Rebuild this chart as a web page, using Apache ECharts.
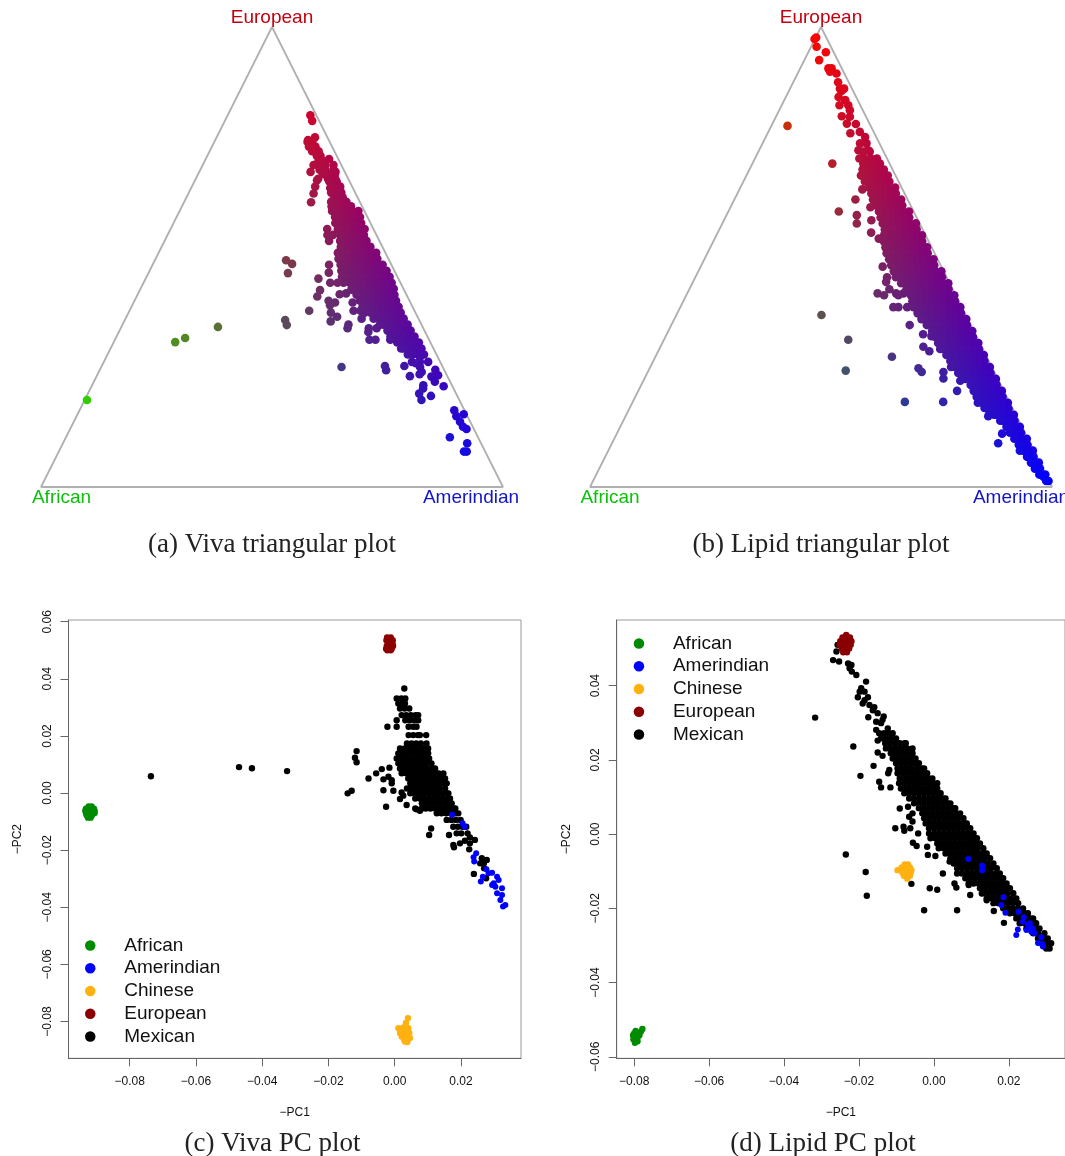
<!DOCTYPE html>
<html>
<head>
<meta charset="utf-8">
<style>html,body{margin:0;padding:0;background:#fff;overflow:hidden}#c{width:1065px;height:1156px}</style>
<script src="https://cdn.jsdelivr.net/npm/echarts@6/dist/echarts.min.js"></script>
</head>
<body>
<div id="c"></div>
<script>
// Ternary panels: rows of [European %, [African % of each sample at that level]]
const vivaTriRows = [
[80.8,[1.3]],[79.6,[1.5]],[76,[2.7]],[75.4,[4.5]],[75,[3.8,4.8]],[74,[3.6,4.3,5]],[73,[3.4,4.1,4.8]],[72,[3.5,4.3]],[71.3,[2]],[71,[3.7,4.4]],
[70,[1.7,3.5,4.9,6]],[69,[2.2,4,5.2]],[68.5,[2,4.9,7.4]],[68,[2.4,3.8,4.7]],[67,[2.8,4.4,6.5]],[66.7,[6.9]],[66.4,[2.8,4.4]],[65.3,[2.6,4.2,8]],[65,[2.8,3.6,4.9]],
[64,[3,3.8,5.2]],[63.8,[9.1]],[63,[3.2,4,5]],[62,[2.9,4,5.2,6.2]],[61.9,[10.6]],[61,[2.4,3.4,4.6,5.6,6.6]],
[60,[1.3,2.6,3.9,5.2,6.5,7]],[58.7,[1.6,3,4.3,5.6,7]],[57.4,[2,3.2,4.5,5.8,7.1,7.6]],[56.1,[1.9,3.2,4.5,5.8,7,7.7,10]],
[54.8,[2.7,3.9,5.2,6.5,7.8,9.4,10.6]],[53.5,[2.8,4.1,5.4,6.7,8,8.5,10.9]],[52.2,[2.6,3.9,5.2,6.5,7.8,9]],[50.9,[2,3.3,4.6,5.9,7.2,8.5,9.8,10.3]],
[49.6,[2.4,3.7,5,6.3,7.6,8.9,10.2,10.8]],[49.3,[22.3]],[48.5,[21.4]],[48.3,[1.9,3.2,4.5,5.8,7.1,8.4,9.7,11,13.5]],[47,[1.7,3,4.3,5.6,6.9,8.2,9.5,10.8,11.5]],[46.6,[14.4]],[46.5,[23.3]],
[45.7,[1.7,3,4.3,5.6,6.9,8.2,9.5,10.8,12]],[45.3,[17.3]],[44.4,[1.9,3.2,4.5,5.8,7.1,8.4,9.7,11,12.3,13.6,15.2]],[43.1,[2.1,3.4,4.7,6,7.3,8.6,9.9,11.2]],
[42.9,[11.3]],[42.8,[18.2]],[42.1,[12.9]],[41.9,[14.4]],[41.4,[19.5]],[41.8,[2.6,3.9,5.2,6.5,7.8,9.1,10.4,10.8]],[40.5,[2.9,4.2,5.5,6.8,8.1,9.4,10.7,17.5]],
[40.1,[12.5,16.3]],[39.5,[17.7]],[39.2,[3,4.3,5.6,6.9,8.2,9.5,10.8]],[38.3,[11.7,13.2,22.8]],[37.9,[3.2,4.5,5.8,7.1,8.4,9.7,11,18.3]],[37,[17.4]],
[36.6,[3.2,4.5,5.8,7.1,8.4,9.7,12.3]],[36.3,[29]],[36,[19.3]],[35.3,[3,4.3,5.6,6.9,8.2,9,15.8]],[35.2,[29.2]],[34.5,[10.1,11.8,16.4]],[34,[3,4.3,5.6,6.9,8]],[33.7,[12.3]],
[32.7,[2.8,4.1,5.4,6.7,8]],[32,[8.4,11.6,12.9]],[31.4,[2.5,3.8,5.1,6.4,7.2]],[30.1,[2.6,3.9,5.2,6.5,7]],[28.8,[2.7,4,5.2,6.2]],[28.3,[3.8]],[27.2,[2.6,4.4,6.1]],
[26.9,[5.4]],[26.3,[8.2,12.4]],[26.1,[4.9,21.9]],[25.5,[1.9]],[25.4,[12.6]],[25,[5.1]],[24.5,[5.8]],[24.3,[1.9]],[24.1,[8.1]],[24,[3.5]],[22.9,[3.3]],[22.1,[6.2]],
[21.9,[1.9]],[21.4,[6.6]],[20.3,[8]],[19.8,[5.7]],[18.9,[8.2]],[16.7,[2.2]],[15.8,[0.6]],[15.4,[2.4]],[14.2,[2.2]],[13.1,[2.1]],[12.6,[1.6]],[10.8,[6.1]],[9.5,[3]],[7.7,[4,4.6]],
[34.8,[44.3]],[32.4,[52.6]],[31.5,[55.2]],[18.9,[80.6]]
];
const lipidTriRows = [
[97.7,[2.2]],[97.4,[2.7]],[95.7,[3.1]],[94.5,[1.7]],[92.8,[4]],[91,[2.2,2.9]],[90.3,[2.9]],[89.9,[1.7]],[88,[2.3]],[86.6,[1.7,2.6]],[86.1,[2.5]],[84.8,[3.8]],[84.1,[2.7]],
[83,[2.6,4.5]],[81.9,[2.8]],[80.6,[5.2]],[80.5,[3.5]],[79,[4.9]],[78.9,[3]],[78.5,[18]],[77.2,[3]],[76.9,[5.2]],[76.1,[2.4]],[74.7,[2.8,4.2]],[73.2,[3.2,5.3]],[72.9,[3,4.4]],[71.4,[2.2,3.5,4.9,6]],
[70.3,[2.1,3.4,4.7,5.7,12.4]],[69,[1.9,3.2,4.5,5.8,6.5]],[67.7,[1.7,3,4.3,5.6,6.9,7.5]],[66.4,[2,3.3,4.6,5.9,7.3]],[65.1,[1.4,2.7,4,5.3,6.6,7.1]],[64.7,[8.7]],
[63.8,[1.9,3.2,4.5,5.8,7.2]],[62.5,[1.4,2.7,4,5.3,6.6,7.5,11.3]],[61.2,[1.8,3.1,4.4,5.7,7,7.5]],[60.8,[8.9]],[59.9,[1,2.3,3.6,4.9,6.2,7.5,16.2]],[59.1,[12.7]],[58.6,[1.6,2.9,4.2,5.5,6.8,7.8]],[58,[10.1]],
[57.3,[0.8,2.1,3.4,4.7,6,7.3,8,13.6]],[56,[1.3,2.6,3.9,5.2,6.5,7.8,8.2]],[55.3,[11.5]],[54.7,[0.8,2.1,3.4,4.7,6,7.3,8.6,9]],[54,[10.5]],[53.4,[1.4,2.7,4,5.3,6.6,7.9,9.2,9.7]],
[52.1,[1,2.3,3.6,4.9,6.2,7.5,8.8,10]],[50.8,[1.5,2.8,4.1,5.4,6.7,8,9.3,10.4]],[49.5,[0.9,2.2,3.5,4.8,6.1,7.4,8.7,10,10.5]],[48.2,[1.4,2.7,4,5.3,6.6,7.9,9.2,10.5,10.7]],
[47.9,[12.7]],[46.9,[0.5,1.8,3.1,4.4,5.7,7,8.3,9.6,10.8]],[45.6,[1,2.3,3.6,4.9,6.2,7.5,8.8,10.1,11,12.9]],[44.6,[13.6]],[44.3,[0.3,1.6,2.9,4.2,5.5,6.8,8.1,9.4,10.5]],[43,[0.9,2.2,3.5,4.8,6.1,7.4,8.7,10,13.7]],
[42.1,[11.1,12.7,16.7]],[41.7,[0.3,1.6,2.9,4.2,5.5,6.8,8.1,9.4,9.7,12.4,15.5]],[40.4,[0.8,2.1,3.4,4.7,6,7.3,8.6,9.9,10]],[39.1,[0.3,1.6,2.9,4.2,5.5,6.8,8.1,9.4,10.4,14.8,13.7,11.8]],
[37.8,[0.8,2.1,3.4,4.7,6,7.3,8.6,9.9,10.2]],[36.5,[0.3,1.6,2.9,4.2,5.5,6.8,8.1,9.4,10]],[35.2,[0.8,2.1,3.4,4.7,6,7.3,8.6,9.5,13.2]],[33.9,[0.3,1.6,2.9,4.2,5.5,6.8,8.1,9]],
[33.2,[11.3]],[32.8,[9.7]],[32.6,[0.8,2.1,3.4,4.7,6,7.3,8.6,9]],[32,[28.1]],[31.3,[0.3,1.6,2.9,4.2,5.5,6.8,8.1,9]],[30.5,[12.6]],[30,[0.8,2.1,3.4,4.7,6,7.3,8.6,9.2]],[29.5,[11.8]],
[28.7,[0.4,1.7,3,4.3,5.6,6.9,8.2,8.5]],[28.3,[20.5]],[27.4,[0.9,2.2,3.5,4.8,6.1,7.4,8.3]],[26.1,[0.4,1.7,3,4.3,5.6,6.9,8,8.8]],[25.8,[16]],[25.3,[32]],[25,[11,15.7]],[24.8,[0.9,2.2,3.5,4.8,6.1,7.4,7.9]],
[23.6,[11.7]],[23.5,[0.4,1.7,3,4.3,5.6,7]],[23.1,[8.3]],[22.2,[0.9,2.2,3.5,4.8,6.1,6.5]],[20.9,[0.4,1.7,3,4.3,5.6,6.5,10.1]],[19.6,[0.9,2.2,3.5,4.8,6.1,6.5]],[18.5,[14.3,22.6]],
[18.3,[0.4,1.7,3,4.3,5.6,6,6.9]],[17.2,[6]],[17,[0.9,2.2,3.5,4.8,5.5]],[15.7,[0.4,1.7,3,4.2,4.7]],[15.4,[6.1]],[14.4,[0.9,2.2,3.5,4]],[13.1,[0.4,1.7,3,3.3]],[11.8,[0.8,2.1,3.2]],[11.6,[5]],
[10.5,[0.2,1.5,2.9]],[9.5,[6.9]],[9.2,[0.7,2,2.6]],[7.9,[0.2,1.5,2.3,3]],[6.6,[0.7,2,2.1]],[5.3,[0.2,1.5,1.9]],[4,[0.6,1.7]],[2.7,[0.1,1.4]],[2.2,[0.7]],[1.3,[0.1,0.6]],
[37.4,[31.2]]
];
const triangleCorners = [[100,0],[0,100],[0,0],[100,0]]; // [European %, African %]

// PC panels, values in thousandths: rows of [PC2, [PC1 ...]]
const vivaMexican = [
[36.6,[2.9]],[33.1,[0.6,2,3.2]],[31.4,[1.1,2.6,3.1]],[29.6,[1.6,3,4.4]],[27.3,[2.1,3.5,4.9,6.3,7.1]],[25.5,[0.6,3.2,4.6,6,7.1]],[23.2,[-2.2,0.6,4.2,5.6,6.6]],[20.3,[4.2,5.6,7,7.6,9.5]],
[17.4,[3.7,5.1,6.5,7.9,9.6]],[15.6,[1.6,3,4.4,5.8,7.2,8.6,10.1]],[13.9,[1.1,2.5,3.9,5.3,6.7,8.1,9.5,10.1]],[12.1,[0.6,2,3.4,4.8,6.2,7.6,9,10.4]],[10.4,[1.1,2.5,3.9,5.3,6.7,8.1,9.5,11.1]],
[8.6,[1.6,3,4.4,5.8,7.2,8.6,10,11.4,12.2]],[6.9,[2.1,3.5,4.9,6.3,7.7,9.1,10.5,11.9,13.3,14.7]],[5.1,[4.1,5.5,6.9,8.3,9.7,11.1,12.5,13.9,15.2]],[3.4,[4.7,6.1,7.5,8.9,10.3,11.7,13.1,14.5,15.7]],
[1.6,[3.7,5.1,6.5,7.9,9.3,10.7,12.1,13.5,15.2]],[-0.1,[4.7,6.1,7.5,8.9,10.3,11.7,13.1,14.5,15.9,16.2]],[-1.9,[6.2,7.6,9,10.4,11.8,13.2,14.6,16,16.7]],[-3.6,[8.2,9.6,11,12.4,13.8,15.2,16.6,17.2]],
[-5.4,[6.2,8.2,9.4,10.8,12.2,13.6,15,16.4,17.8,18.3]],[-7.1,[12.7,14.1,15.5,16.9,18.3,19.2]],[-9.4,[15.7,17.1,18.5,19.9]],[-11.8,[17.7,19.1,20.5,21.6]],[-14.1,[18.7,20.1,22]],
[14.7,[-11.5]],[12.4,[-12]],[10.8,[-11.5]],[5.1,[-7.9]],[6.9,[-5.6]],[8.4,[-3.9]],[8.9,[-1.6]],[4.8,[-3.4]],[5.7,[-1.9]],[4.5,[-0.9]],[3.4,[-0.9]],[-0.1,[-14.2]],[0.8,[-13,-0.4]],[1,[-3.4]],
[0.2,[2.1]],[-0.9,[2.6]],[-2.1,[1.6]],[-4.8,[-2.6]],[-4.2,[3.6]],[-5.7,[6.6]],[-6.2,[7.6]],[-12.4,[11]],[-14.7,[10.4,16.4]],[-18.2,[17.7]],[-19,[17.9]],[-17.6,[19.7,22.7]],[-16.7,[21.2]],[-15.5,[22.7]],
[-16.4,[24.2]],[-19.7,[22.5]],[-22.8,[26.3]],[-23.4,[27.8]],[-24.6,[25.8,26.9]],[-26.3,[27]],[-28.3,[23.9]],[-29.8,[27.6]],
[5.9,[-73.6]],[9.1,[-47]],[8.7,[-43.1]],[7.7,[-32.5]]
];
const vivaAmerindian = [[-7.6,[17.3]],[-10.6,[20.5]],[-11.8,[21.1]],[-22.5,[23.8]],[-21.1,[24.6]],[-24,[24]],[-26.7,[27.7]],[-28.1,[28.3]],[-27.9,[29.4]],[-29.3,[26.6,30.9]],[-31,[26]],[-30.4,[31.4]],[-31.6,[29.9]],[-32.2,[29.4]],[-32.8,[30.4]],[-33.3,[32.4]],[-35.1,[30.9]],[-35.7,[32.4]],[-37.4,[31.9]],[-39.2,[33.4]],[-39.7,[32.7]]];
const vivaChinese = [[-78.8,[4]],[-80.5,[3.4]],[-82.1,[2.6]],[-82.3,[1.1,4.1]],[-83,[1.8,3.3]],[-84,[1.6,2.8,3.6,4.4]],[-85.2,[2.1,3.2]],[-85.8,[4.6]],[-86.2,[3.8,2.8]],[-87,[3.1]],[-87.2,[3.8]]];
const vivaEuropean = [[54.5,[-2.3,-1.2]],[53.5,[-2.5,-0.6]],[52.5,[-2,-1,-0.7]],[51.5,[-2.4,-1.4,-0.5]],[50.5,[-2.6,-1.6,-0.9]],[50,[-2.2,-1.2]]];
const vivaAfrican = [[-4.7,[-92.4,-91.5]],[-5.5,[-93.2,-90.8]],[-6.2,[-93.4,-92,-90.6]],[-7,[-93.2,-91.8,-90.6]],[-7.8,[-93,-91.4]],[-8.6,[-92.6,-91.8]]];

const lipidMexican = [
[27.2,[-14.6,-13.3,-12,-11]],[25.8,[-14.1,-12.8,-11.5,-10.1]],[24.5,[-13,-11.7,-10.4,-9.1,-7.8,-7.5]],[23.1,[-12.8,-11.5,-10.2,-8.9,-7.6,-7.1]],[21.8,[-11.5,-10.2,-8.9,-7.6,-6.3,-5.7]],
[20.4,[-11,-9.7,-8.4,-7.1,-5.8,-4.9]],[19.1,[-10.1,-8.8,-7.5,-6.2,-4.9,-4]],[17.7,[-9.7,-8.4,-7.1,-5.8,-4.5,-3.2,-2.6]],[16.4,[-9.7,-8.3,-7,-5.7,-4.4,-3.1,-1.8]],[15,[-9.1,-7.8,-6.5,-5.2,-3.9,-2.6,-1.3,-0.4]],
[13.7,[-9.3,-8,-6.7,-5.4,-4.1,-2.8,-1.5,-0.2,0.9]],[12.3,[-8.8,-7.5,-6.2,-4.9,-3.6,-2.3,-1,0.3,0.9]],[11,[-7.9,-6.6,-5.3,-4,-2.7,-1.4,-0.1,1.2,1.8]],[9.6,[-6.6,-5.3,-4,-2.7,-1.4,-0.1,1.2,2.5,3.1]],
[8.3,[-5.3,-4,-2.7,-1.4,-0.1,1.2,2.5,3.8,4.4]],[7,[-4,-2.7,-1.4,-0.1,1.2,2.5,3.8,5.1,5.7]],[5.6,[-3.1,-1.8,-0.5,0.8,2.1,3.4,4.7,6,7]],[4.3,[-2.6,-1.3,0,1.3,2.6,3.9,5.2,6.5,7.9]],
[2.9,[-2.2,-0.9,0.4,1.7,3,4.3,5.6,6.9,8.2,8.8]],[1.6,[-1.3,0,1.3,2.6,3.9,5.2,6.5,7.8,9.1,9.7]],[0.2,[-1.3,0.1,1.4,2.7,4,5.3,6.6,7.9,9.2,10.6]],[-1.1,[-0.9,0.4,1.7,3,4.3,5.6,6.9,8.2,9.5,10.8,11.5]],
[-2.5,[0.9,2.2,3.5,4.8,6.1,7.4,8.7,10,11.3,12.3]],[-3.8,[1.3,2.6,3.9,5.2,6.5,7.8,9.1,10.4,11.7,13.2]],[-5.2,[3.1,4.4,5.7,7,8.3,9.6,10.9,12.2,13.5,14.1]],[-6.5,[4.4,5.7,7,8.3,9.6,10.9,12.2,13.5,15]],
[-7.9,[5.3,6.6,7.9,9.2,10.5,11.8,13.1,14.4,15.9]],[-9.2,[6.2,7.5,8.8,10.1,11.4,12.7,14,15.3,16.8]],[-10.6,[6.2,7.5,8.8,10.1,11.4,12.7,14,15.3,16.6,17.6]],[-11.9,[8.4,9.7,11,12.3,13.6,14.9,16.2,17.5,18.5]],
[-13.3,[9.3,10.6,11.9,13.2,14.5,15.8,17.1,18.4,19.4]],[-14.6,[12.3,13.6,14.9,16.2,17.5,18.8,20.3]],[-15.9,[13.2,14.5,15.8,17.1,18.4,19.7,21.2]],[-17.3,[14.1,15.4,16.7,18,19.3,20.6,22]],
[-18.6,[15.9,17.2,18.5,19.8,21.1,22.5]],[-20,[18.5,19.8,21.1,22.4,23.8]],[-21.3,[20.3,21.6,22.9,24.2,25.1]],[-22.7,[22,23.3,24.6,25.9,26.5]],[-24,[22.9,24.2,25.5,26.8,27.3]],
[-25.4,[24.7,26,27.3,28.2]],[-26.7,[26.5,27.8,29.5]],[-28.1,[27.8,29.1,30.4]],[-29.4,[28.7,30,31.3]],[-30.8,[30,30.9]],
[51,[-25.7]],[49.2,[-26]],[46.9,[-26.9]],[46.5,[-25.3]],[46,[-22.9]],[45.6,[-22]],[44.7,[-22.5]],[43.8,[-21.9]],[42.9,[-20.7]],[41.1,[-18.1]],[39.3,[-19.4]],[38.4,[-19.8,-18.5]],[36.9,[-20.3,-17.6]],[36.1,[-18.5]],
[35.2,[-19]],[34.8,[-17.2]],[34.2,[-15.9]],[33.4,[-16.3]],[32.6,[-15]],[31.5,[-17.5]],[31.7,[-13.4]],[30.8,[-13.7]],[30.3,[-15.4]],[29.9,[-14.1]],[28.1,[-15.4]],[28.5,[-12.3]],
[31.4,[-31.7]],[23.6,[-21.5]],[25.2,[-15]],[22,[-15]],[21.1,[-13.7]],[23.1,[-5.7]],[18.4,[-16.1]],[15.7,[-19.6]],[17.3,[-11.9]],[16.4,[-12.2]],[14.1,[-14.6]],[12.6,[-14.1,-11.6]],[6.9,[-9.1]],[7.4,[-6.9]],
[5.6,[-5.7]],[4.7,[-6.6]],[3.4,[-5.7]],[1.6,[-10.3,-6.3]],[2,[-8.1]],[0.9,[-7.9]],[0.2,[-4.2]],[-2.3,[-5.6]],[-3.2,[-4.6]],[-3.4,[-1.8]],[-5.6,[-1.6]],[-5.9,[0.4]],[-7.4,[4.2]],[-10.6,[2.4]],
[-5.5,[-23.5]],[-10.2,[-18.2]],[-16.6,[-17.9]],[-13.4,[-6]],[-14.6,[-1.1]],[-15,[0.9]],[-13.3,[5.5]],[-14.4,[6]],[-20.5,[-2.6,6.2]],[-16.4,[9.7]],[-13.7,[9.3]],[-20.7,[16]],[-23.9,[18.7]],[-16,[12.8]],[-17.8,[14.1]]
];
const lipidAmerindian = [[-6.7,[9.2]],[-8.5,[12.9]],[-9.7,[12.9]],[-17,[18.6]],[-19.1,[18]],[-21.2,[19.1]],[-20.9,[22.6]],[-22.4,[24]],[-23.6,[23.8]],[-24,[25.6]],[-24.5,[25.1]],[-25,[25.6]],[-25.4,[26.5]],[-25.8,[24.7]],[-26.3,[26]],[-26.7,[26.9]],[-25.7,[22.4]],[-27.2,[22]],[-27.8,[28.7]],[-29.3,[27.8]],[-29.6,[28.9]],[-30.3,[29.1]]];
const lipidChinese = [[-8.2,[-7.8,-6.9]],[-9,[-8.6,-7.4,-6.4]],[-9.7,[-9.7,-8.4,-7.2,-6]],[-10.4,[-8.4,-7.4,-6.2]],[-11.2,[-8,-7,-6.4]],[-12,[-7.1]]];
const lipidEuropean = [[53.7,[-23.4]],[53,[-24.4,-23,-22.4]],[52,[-25,-23.8,-22.6,-22]],[51,[-25.2,-24,-22.8,-22.2]],[50,[-24.6,-23.4,-22.6]],[49,[-24.2,-23.2]]];
const lipidAfrican = [[-52.5,[-77.8]],[-53,[-79.6]],[-53.2,[-78.2]],[-53.7,[-78.9,-80]],[-54.2,[-80.3,-78.6]],[-54.6,[-79.8]],[-54.8,[-79.1]],[-55.3,[-80.2,-79.4]],[-55.8,[-79.1]],[-56.2,[-79.8]]];

const vivaXTicks = [-0.08,-0.06,-0.04,-0.02,0,0.02];
const vivaYTicks = [-0.08,-0.06,-0.04,-0.02,0,0.02,0.04,0.06];
const lipidXTicks = [-0.08,-0.06,-0.04,-0.02,0,0.02];
const lipidYTicks = [-0.06,-0.04,-0.02,0,0.02,0.04];
const groupNames = ['African','Amerindian','Chinese','European','Mexican'];
const groupColors = {African:'#008B00',Amerindian:'#0000FF',Chinese:'#FFB10F',European:'#8B0000',Mexican:'#000000'};

const SANS = '"Liberation Sans", Arial, sans-serif';
const SERIF = '"Liberation Serif", "DejaVu Serif", serif';

function ternaryXY(eur, afr){ return [100 - afr - eur/2, eur]; }
function ternaryPoints(rows){
  const out = [];
  rows.forEach(([eur, afrs]) => afrs.forEach(afr => {
    const amer = Math.max(0, 100 - eur - afr);
    const c = v => Math.round(v * 2.55);
    out.push({value: ternaryXY(eur, afr), itemStyle: {color: `rgb(${c(eur)},${c(afr)},${c(amer)})`, opacity:1}});
  }));
  return out;
}
function pcPoints(rows){
  const out = [];
  rows.forEach(([pc2, pc1s]) => pc1s.forEach(pc1 => out.push([pc1/1000, pc2/1000])));
  return out;
}
const fmt = v => Math.abs(v) < 1e-9 ? '0.00' : v.toFixed(2).replace('-', '\u2212');

const grids = [
  {left:41, top:27, width:462, height:460, show:false},
  {left:590, top:27, width:462, height:460, show:false},
  {left:68.5, top:620, width:452.5, height:438.3, show:true, borderColor:'#9a9a9a', borderWidth:1, backgroundColor:'transparent'},
  {left:616.7, top:620, width:452.5, height:438.3, show:true, borderColor:'#9a9a9a', borderWidth:1, backgroundColor:'transparent'}
];
const hiddenAxis = i => ({type:'value', gridIndex:i, min:0, max:100, show:false});
function pcAxis(i, min, max, ticks, name, vertical){
  return {
    type:'value', gridIndex:i, min, max, scale:true,
    name, nameLocation:'middle', nameGap: vertical ? 44.5 : 48, nameRotate: vertical ? 90 : 0,
    nameTextStyle:{fontFamily:SANS, fontSize:12, color:'#111'},
    axisLine:{show:true, onZero:false, lineStyle:{color:'#666', width:1}},
    axisTick:{show:true, length:8, customValues:ticks, lineStyle:{color:'#666', width:1}},
    axisLabel:{show:true, customValues:ticks, formatter:fmt, rotate: vertical ? 90 : 0, margin: vertical ? 15 : 17, fontFamily:SANS, fontSize:12, color:'#111', hideOverlap:false},
    splitLine:{show:false}
  };
}
const triangleSeries = i => ({type:'line', xAxisIndex:i, yAxisIndex:i, data:triangleCorners.map(p => ternaryXY(p[0], p[1])), symbol:'none', clip:false, lineStyle:{color:'#b0b0b0', width:1.8}, silent:true, z:1});
const triPts = (i, rows) => ({type:'scatter', xAxisIndex:i, yAxisIndex:i, data:ternaryPoints(rows), symbol:'circle', symbolSize:8.6, clip:false, silent:true, z:2});
const pcSeries = (i, name, rows, size) => ({type:'scatter', name, xAxisIndex:i, yAxisIndex:i, data:pcPoints(rows), symbol:'circle', symbolSize:size, itemStyle:{color:groupColors[name], opacity:1}, silent:true, z:3});

const textBlock = (text, x, y, color, size, family) => ({text, left:x, top:y, textAlign:'center', textVerticalAlign:'middle', padding:0, textStyle:{color, fontSize:size, fontWeight:'normal', fontFamily:family}});
const legendBlock = (left, top) => ({
  show:true, orient:'vertical', left, top, data:groupNames, icon:'circle', itemWidth:58, itemHeight:10.5, itemGap:3.75, selectedMode:false, padding:0,
  textStyle:{fontFamily:SANS, fontSize:19, color:'#111', lineHeight:19}
});

const chart = echarts.init(document.getElementById('c'), null, {renderer:'canvas', width:1065, height:1156});
chart.setOption({
  animation:false,
  backgroundColor:'#fff',
  title:[
    textBlock('European',272,18,'#C4000F',19,SANS), textBlock('African',61.5,498,'#0CC00C',19,SANS), textBlock('Amerindian',471,498,'#1414C8',19,SANS),
    textBlock('European',821,18,'#C4000F',19,SANS), textBlock('African',610,498,'#0CC00C',19,SANS), textBlock('Amerindian',1021,498,'#1414C8',19,SANS),
    textBlock('(a) Viva triangular plot',272,544.5,'#222',27,SERIF), textBlock('(b) Lipid triangular plot',821,544.5,'#222',27,SERIF),
    textBlock('(c) Viva PC plot',272.5,1143.5,'#222',27,SERIF), textBlock('(d) Lipid PC plot',823,1143.5,'#222',27,SERIF)
  ],
  legend:[legendBlock(85,936), legendBlock(633.7,634)],
  grid:grids,
  xAxis:[hiddenAxis(0), hiddenAxis(1), pcAxis(2,-0.09848,0.03813,vivaXTicks,'\u2212PC1',false), pcAxis(3,-0.08466,0.035,lipidXTicks,'\u2212PC1',false)],
  yAxis:[hiddenAxis(0), hiddenAxis(1), pcAxis(2,-0.09287,0.0606,vivaYTicks,'\u2212PC2',true), pcAxis(3,-0.0604,0.0577,lipidYTicks,'\u2212PC2',true)],
  series:[
    triangleSeries(0), triPts(0, vivaTriRows),
    triangleSeries(1), triPts(1, lipidTriRows),
    pcSeries(2,'Mexican',vivaMexican,6.4), pcSeries(2,'Amerindian',vivaAmerindian,6), pcSeries(2,'Chinese',vivaChinese,6.4), pcSeries(2,'European',vivaEuropean,6.4), pcSeries(2,'African',vivaAfrican,6.4),
    pcSeries(3,'Mexican',lipidMexican,6.4), pcSeries(3,'Amerindian',lipidAmerindian,6), pcSeries(3,'Chinese',lipidChinese,6.4), pcSeries(3,'European',lipidEuropean,6.4), pcSeries(3,'African',lipidAfrican,6.4)
  ]
});
</script>
</body>
</html>
